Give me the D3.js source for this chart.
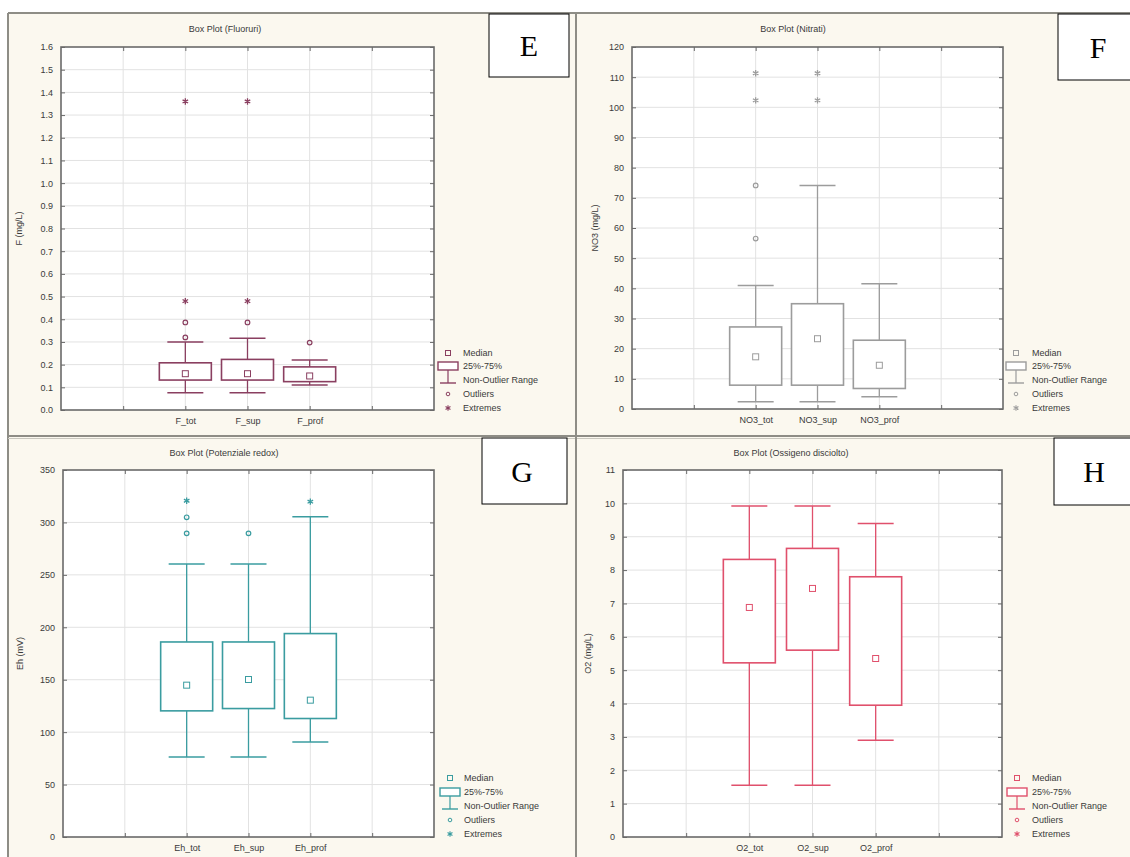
<!DOCTYPE html>
<html><head><meta charset="utf-8">
<script src="https://cdn.jsdelivr.net/npm/d3@7"></script>
<style>
body{margin:0;background:#fff;}
svg{display:block;}
text{font-family:"Liberation Sans",Arial,sans-serif;}
text.letter{font-family:"Liberation Serif","Times New Roman",serif;}
</style>
</head><body>
<svg id="chart" width="1130" height="857"></svg>
<script>
// ---------- DATA ----------
// E: Fluoruri
const fluorCategories = ["F_tot", "F_sup", "F_prof"];
const fluorMedian = [0.16, 0.16, 0.15];
const fluorQ1 = [0.132, 0.132, 0.125];
const fluorQ3 = [0.208, 0.223, 0.19];
const fluorLow = [0.076, 0.076, 0.11];
const fluorHigh = [0.30, 0.316, 0.22];
const fluorOutliers = [[0.32, 0.386], [0.386], [0.297]];
const fluorExtremes = [[0.48, 1.36], [0.48, 1.36], []];
const fluorTicks = [0, 0.1, 0.2, 0.3, 0.4, 0.5, 0.6, 0.7, 0.8, 0.9, 1.0, 1.1, 1.2, 1.3, 1.4, 1.5, 1.6];

// F: Nitrati
const nitrCategories = ["NO3_tot", "NO3_sup", "NO3_prof"];
const nitrMedian = [17.3, 23.3, 14.5];
const nitrQ1 = [7.9, 7.9, 6.8];
const nitrQ3 = [27.2, 34.9, 22.8];
const nitrLow = [2.4, 2.4, 4.1];
const nitrHigh = [40.9, 74.1, 41.5];
const nitrOutliers = [[56.5, 74.1], [], []];
const nitrExtremes = [[102.3, 111.3], [102.3, 111.3], []];
const nitrTicks = [0, 10, 20, 30, 40, 50, 60, 70, 80, 90, 100, 110, 120];

// G: Potenziale redox
const ehCategories = ["Eh_tot", "Eh_sup", "Eh_prof"];
const ehMedian = [144.8, 150.2, 130.5];
const ehQ1 = [120.3, 122.5, 113];
const ehQ3 = [186, 186, 194];
const ehLow = [76.4, 76.4, 90.7];
const ehHigh = [260.3, 260.3, 305.4];
const ehOutliers = [[289.6, 304.9], [289.6], []];
const ehExtremes = [[320.7], [], [319.8]];
const ehTicks = [0, 50, 100, 150, 200, 250, 300, 350];

// H: Ossigeno disciolto
const o2Categories = ["O2_tot", "O2_sup", "O2_prof"];
const o2Median = [6.88, 7.45, 5.35];
const o2Q1 = [5.22, 5.6, 3.95];
const o2Q3 = [8.32, 8.65, 7.8];
const o2Low = [1.55, 1.55, 2.9];
const o2High = [9.92, 9.92, 9.4];
const o2Outliers = [[], [], []];
const o2Extremes = [[], [], []];
const o2Ticks = [0, 1, 2, 3, 4, 5, 6, 7, 8, 9, 10, 11];

const legendLabels = ["Median", "25%-75%", "Non-Outlier Range", "Outliers", "Extremes"];

// ---------- LAYOUT ----------
const svg = d3.select("#chart");

// background frame
svg.append("rect").attr("x", 8).attr("y", 13).attr("width", 1122).attr("height", 844).attr("fill", "#fbf8ef");
const frameCol = "#8e8d86";
svg.append("line").attr("x1", 8).attr("x2", 1130).attr("y1", 13).attr("y2", 13).attr("stroke", frameCol).attr("stroke-width", 2);
svg.append("line").attr("x1", 8).attr("x2", 8).attr("y1", 13).attr("y2", 857).attr("stroke", frameCol).attr("stroke-width", 2);
svg.append("line").attr("x1", 8).attr("x2", 1130).attr("y1", 436).attr("y2", 436).attr("stroke", frameCol).attr("stroke-width", 2);
svg.append("line").attr("x1", 8).attr("x2", 1130).attr("y1", 438.5).attr("y2", 438.5).attr("stroke", "#c9c7bf").attr("stroke-width", 1);
svg.append("line").attr("x1", 576).attr("x2", 576).attr("y1", 13).attr("y2", 857).attr("stroke", frameCol).attr("stroke-width", 2);

const panels = [
  {cats: fluorCategories, med: fluorMedian, q1: fluorQ1, q3: fluorQ3, lo: fluorLow, hi: fluorHigh,
   out: fluorOutliers, ext: fluorExtremes, ticks: fluorTicks, fmt: d3.format(".1f"),
   x0: 61, x1: 434, y0: 47, y1: 410, color: "#8a3f60",
   title: "Box Plot (Fluoruri)", tx: 225, ty: 32, ylabel: "F (mg/L)", ylx: 19,
   lx: 448, ltx: 463, ly: [353, 366, 380, 394, 408],
   letter: "E", bx: 489, by: 14, bw: 80, bh: 63},
  {cats: nitrCategories, med: nitrMedian, q1: nitrQ1, q3: nitrQ3, lo: nitrLow, hi: nitrHigh,
   out: nitrOutliers, ext: nitrExtremes, ticks: nitrTicks, fmt: d3.format("d"),
   x0: 632, x1: 1003, y0: 47, y1: 409, color: "#9c9c9c",
   title: "Box Plot (Nitrati)", tx: 793, ty: 32, ylabel: "NO3 (mg/L)", ylx: 595,
   lx: 1016, ltx: 1032, ly: [353, 366, 380, 394, 408],
   letter: "F", bx: 1058, by: 14, bw: 80, bh: 66},
  {cats: ehCategories, med: ehMedian, q1: ehQ1, q3: ehQ3, lo: ehLow, hi: ehHigh,
   out: ehOutliers, ext: ehExtremes, ticks: ehTicks, fmt: d3.format("d"),
   x0: 63, x1: 434, y0: 470, y1: 837, color: "#3a9ca0",
   title: "Box Plot (Potenziale redox)", tx: 224, ty: 456, ylabel: "Eh (mV)", ylx: 20,
   lx: 450, ltx: 464, ly: [778, 792, 806, 820, 834],
   letter: "G", bx: 482, by: 438, bw: 85, bh: 66},
  {cats: o2Categories, med: o2Median, q1: o2Q1, q3: o2Q3, lo: o2Low, hi: o2High,
   out: o2Outliers, ext: o2Extremes, ticks: o2Ticks, fmt: d3.format("d"),
   x0: 623, x1: 1002, y0: 470, y1: 837, color: "#e0506c",
   title: "Box Plot (Ossigeno disciolto)", tx: 791, ty: 456, ylabel: "O2 (mg/L)", ylx: 588,
   lx: 1017, ltx: 1032, ly: [778, 792, 806, 820, 834],
   letter: "H", bx: 1054, by: 438, bw: 85, bh: 67}
];

const textCol = "#3a3a3a";
const gridCol = "#e2e2e2";
const axisCol = "#6a6a6a";

function drawPanel(p) {
  const g = svg.append("g");
  const x = d3.scaleLinear().domain([0, 6]).range([p.x0, p.x1]);
  const y = d3.scaleLinear().domain([p.ticks[0], p.ticks[p.ticks.length - 1]]).range([p.y1, p.y0]);

  g.append("rect").attr("x", p.x0).attr("y", p.y0).attr("width", p.x1 - p.x0).attr("height", p.y1 - p.y0).attr("fill", "#fff");

  // grid
  g.append("g").selectAll("line").data(p.ticks.slice(1, -1)).join("line")
    .attr("x1", p.x0).attr("x2", p.x1).attr("y1", d => y(d)).attr("y2", d => y(d))
    .attr("stroke", gridCol).attr("stroke-width", 1);
  g.append("g").selectAll("line").data([1, 2, 3, 4, 5]).join("line")
    .attr("x1", d => x(d)).attr("x2", d => x(d)).attr("y1", p.y0).attr("y2", p.y1)
    .attr("stroke", gridCol).attr("stroke-width", 1);

  // axes
  const styleAxis = a => { a.select(".domain").remove(); a.selectAll("line").attr("stroke", axisCol); a.selectAll("text").attr("fill", textCol).attr("font-size", 9); };
  g.append("g").attr("transform", `translate(${p.x0},0)`)
    .call(d3.axisLeft(y).tickValues(p.ticks).tickSize(-4).tickPadding(8).tickFormat(p.fmt)).call(styleAxis);
  g.append("g").attr("transform", `translate(${p.x1},0)`)
    .call(d3.axisRight(y).tickValues(p.ticks).tickSize(-4).tickFormat("")).call(styleAxis);
  g.append("g").attr("transform", `translate(0,${p.y1})`)
    .call(d3.axisBottom(x).tickValues([1, 2, 3, 4, 5]).tickSize(-4).tickPadding(8)
      .tickFormat(d => (d >= 2 && d <= 4) ? p.cats[d - 2] : "")).call(styleAxis);
  g.append("g").attr("transform", `translate(0,${p.y0})`)
    .call(d3.axisTop(x).tickValues([1, 2, 3, 4, 5]).tickSize(-4).tickFormat("")).call(styleAxis);

  // boxes
  const half = 26, cap = 18;
  p.cats.forEach((c, i) => {
    const cx = x(i + 2);
    const bg = g.append("g").attr("stroke", p.color).attr("fill", "none");
    bg.append("line").attr("x1", cx).attr("x2", cx).attr("y1", y(p.q3[i])).attr("y2", y(p.hi[i])).attr("stroke-width", 1.3);
    bg.append("line").attr("x1", cx).attr("x2", cx).attr("y1", y(p.q1[i])).attr("y2", y(p.lo[i])).attr("stroke-width", 1.3);
    bg.append("line").attr("x1", cx - cap).attr("x2", cx + cap).attr("y1", y(p.hi[i])).attr("y2", y(p.hi[i])).attr("stroke-width", 1.5);
    bg.append("line").attr("x1", cx - cap).attr("x2", cx + cap).attr("y1", y(p.lo[i])).attr("y2", y(p.lo[i])).attr("stroke-width", 1.5);
    bg.append("rect").attr("x", cx - half).attr("y", y(p.q3[i])).attr("width", 2 * half)
      .attr("height", y(p.q1[i]) - y(p.q3[i])).attr("stroke-width", 1.6).attr("fill", "#fff");
    bg.append("rect").attr("x", cx - 3).attr("y", y(p.med[i]) - 3).attr("width", 6).attr("height", 6).attr("stroke-width", 1);
    p.out[i].forEach(v => {
      bg.append("circle").attr("cx", cx).attr("cy", y(v)).attr("r", 2.3).attr("stroke-width", 1.2);
    });
    p.ext[i].forEach(v => {
      bg.append("path").attr("transform", `translate(${cx},${y(v)})`)
        .attr("d", d3.symbol(d3.symbolAsterisk, 28)()).attr("stroke-width", 1.3);
    });
  });

  // frame
  g.append("rect").attr("x", p.x0).attr("y", p.y0).attr("width", p.x1 - p.x0).attr("height", p.y1 - p.y0)
    .attr("fill", "none").attr("stroke", axisCol).attr("stroke-width", 1.6);

  // title & y label
  g.append("text").attr("x", p.tx).attr("y", p.ty).attr("text-anchor", "middle")
    .attr("font-size", 9).attr("fill", textCol).text(p.title);
  g.append("text").attr("transform", `translate(${p.ylx},${(p.y0 + p.y1) / 2}) rotate(-90)`)
    .attr("text-anchor", "middle").attr("dy", "0.35em").attr("font-size", 9).attr("fill", textCol).text(p.ylabel);

  // legend
  const lg = g.append("g");
  const L = p.ly, sx = p.lx;
  lg.append("rect").attr("x", sx - 2.5).attr("y", L[0] - 2.5).attr("width", 5).attr("height", 5)
    .attr("fill", "none").attr("stroke", p.color).attr("stroke-width", 1);
  lg.append("rect").attr("x", sx - 10).attr("y", L[1] - 4).attr("width", 20).attr("height", 8)
    .attr("fill", "#fff").attr("stroke", p.color).attr("stroke-width", 1.4);
  lg.append("line").attr("x1", sx).attr("x2", sx).attr("y1", L[1] + 4).attr("y2", L[2] + 3).attr("stroke", p.color).attr("stroke-width", 1.2);
  lg.append("line").attr("x1", sx - 8).attr("x2", sx + 8).attr("y1", L[2] + 3).attr("y2", L[2] + 3).attr("stroke", p.color).attr("stroke-width", 1.4);
  lg.append("circle").attr("cx", sx).attr("cy", L[3]).attr("r", 1.8).attr("fill", "none").attr("stroke", p.color).attr("stroke-width", 1);
  lg.append("path").attr("transform", `translate(${sx},${L[4]})`).attr("d", d3.symbol(d3.symbolAsterisk, 22)())
    .attr("fill", "none").attr("stroke", p.color).attr("stroke-width", 1.1);
  lg.selectAll("text").data(legendLabels).join("text")
    .attr("x", p.ltx).attr("y", (d, i) => L[i]).attr("dy", "0.35em")
    .attr("font-size", 9).attr("fill", textCol).text(d => d);

  // letter box
  g.append("rect").attr("x", p.bx).attr("y", p.by).attr("width", p.bw).attr("height", p.bh)
    .attr("fill", "#fff").attr("stroke", "#000").attr("stroke-width", 1);
  g.append("text").attr("class", "letter")
    .attr("x", Math.min(p.bx + p.bw / 2, p.bx + 40)).attr("y", p.by + p.bh / 2).attr("dy", "0.36em")
    .attr("text-anchor", "middle").attr("font-size", 30).attr("fill", "#000").text(p.letter);
}

panels.forEach(drawPanel);
</script>
</body></html>
